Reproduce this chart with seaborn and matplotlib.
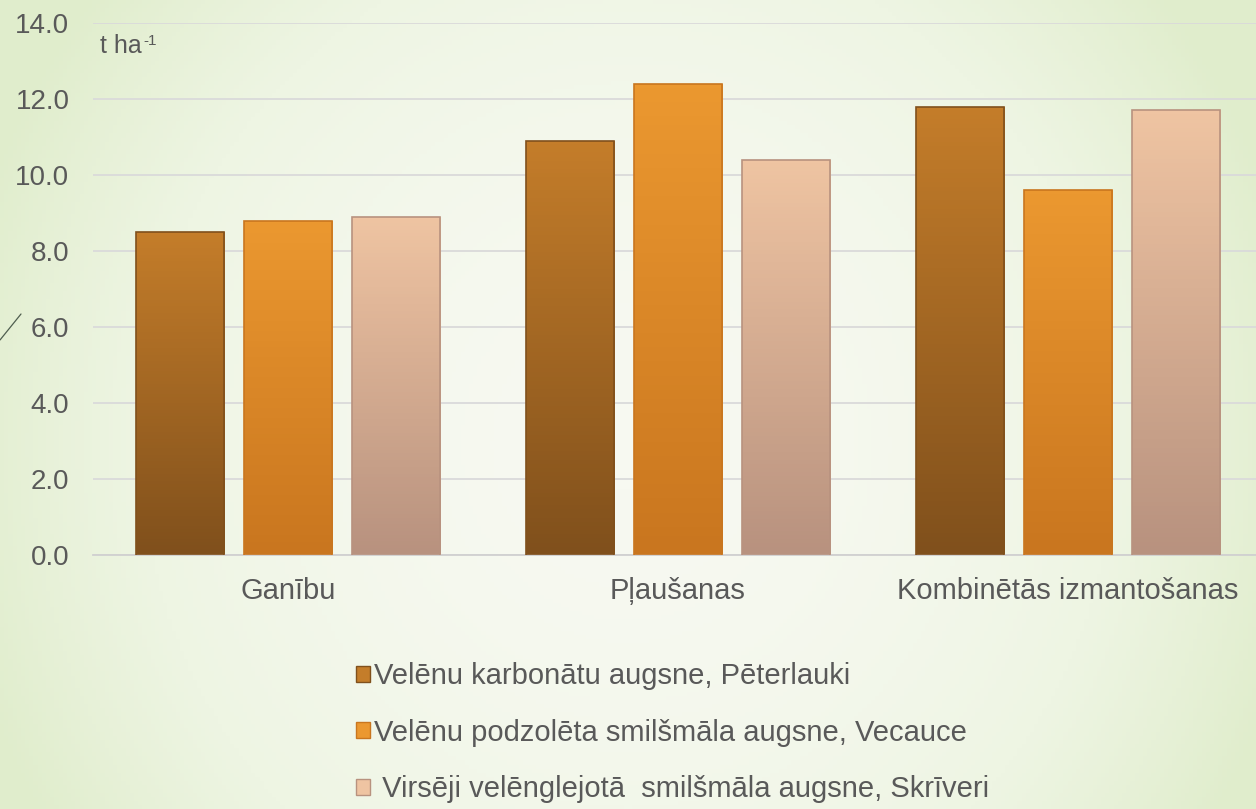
import numpy as np
import pandas as pd
import matplotlib.pyplot as plt
import seaborn as sns
from matplotlib.colors import LinearSegmentedColormap
from matplotlib.patches import Patch

categories = ["Ganību", "Pļaušanas", "Kombinētās izmantošanas"]
soils = [
    "Velēnu karbonātu augsne, Pēterlauki",
    "Velēnu podzolēta smilšmāla augsne, Vecauce",
    " Virsēji velēnglejotā  smilšmāla augsne, Skrīveri",
]
peterlauki = [8.5, 10.9, 11.8]
vecauce = [8.8, 12.4, 9.6]
skriveri = [8.9, 10.4, 11.7]
yticks = [0, 2, 4, 6, 8, 10, 12, 14]

df = pd.DataFrame({
    "kategorija": categories * 3,
    "augsne": [soils[0]] * 3 + [soils[1]] * 3 + [soils[2]] * 3,
    "raza": peterlauki + vecauce + skriveri,
})

# top / bottom colours for each bar gradient
tops = ["#c47d2a", "#eb9830", "#efc4a2"]
bottoms = ["#80501c", "#c9761f", "#b8927f"]

sns.set_style("white")
plt.rcParams["font.family"] = ["Liberation Sans", "DejaVu Sans"]

fig = plt.figure(figsize=(12.56, 8.09), dpi=100)

# slide background
bg = fig.add_axes([0, 0, 1, 1], zorder=-10)
xx, yy = np.meshgrid(np.linspace(0, 1, 300), np.linspace(0, 1, 200))
field = np.clip(((xx - 0.5) / 0.55) ** 2 + ((yy - 0.45) / 0.9) ** 2, 0, 1)
bg_cmap = LinearSegmentedColormap.from_list("bg", ["#f7f9f1", "#eef5e3", "#e0edcc"])
bg.imshow(field, cmap=bg_cmap, aspect="auto", extent=[0, 1, 0, 1], origin="lower")
bg.plot([0, 21 / 1256], [1 - 340 / 809, 1 - 314 / 809], color="#4f5e4f", lw=0.9)
bg.set_xlim(0, 1)
bg.set_ylim(0, 1)
bg.axis("off")

ax = fig.add_axes([93 / 1256, 1 - 555 / 809, 1163 / 1256, 532 / 809])
ax.patch.set_alpha(0)

sns.barplot(data=df, x="kategorija", y="raza", hue="augsne", hue_order=soils,
            palette=tops, width=0.83, gap=0.18, legend=False, ax=ax)

# gradient fill inside each bar
for i, cont in enumerate(ax.containers):
    cmap = LinearSegmentedColormap.from_list(f"g{i}", [bottoms[i], tops[i]])
    for bar in cont:
        x0, y0 = bar.get_x(), bar.get_y()
        w, h = bar.get_width(), bar.get_height()
        grad = np.linspace(0, 1, 100).reshape(-1, 1)
        im = ax.imshow(grad, cmap=cmap, aspect="auto", origin="lower",
                       extent=[x0, x0 + w, y0, y0 + h], zorder=2)
        im.set_clip_path(bar)
        bar.set_facecolor("none")
        bar.set_edgecolor(bottoms[i])
        bar.set_linewidth(1.2)
        bar.set_zorder(3)

ax.set_xlim(-0.5, 2.482)
ax.set_ylim(0, 14)
ax.set_yticks(yticks)
ax.set_yticklabels([f"{v:.1f}" for v in yticks])
ax.yaxis.grid(True, color="#dadada", lw=1.3)
ax.set_axisbelow(True)
for s in ["left", "right", "top"]:
    ax.spines[s].set_visible(False)
ax.spines["bottom"].set_color("#d0d0d0")
ax.spines["bottom"].set_linewidth(1.3)
ax.tick_params(axis="y", length=0, pad=17, labelsize=20, labelcolor="#595959")
ax.tick_params(axis="x", length=0, pad=16, labelsize=21, labelcolor="#595959")
ax.set_xlabel("")
ax.set_ylabel("")

unit = ax.text(0.006, 0.98, "t ha", transform=ax.transAxes,
               fontsize=18, color="#595959", va="top", ha="left")
ax.annotate("-1", xy=(1, 1), xycoords=unit, xytext=(1, 0),
            textcoords="offset points", fontsize=11, color="#595959",
            va="top", ha="left")

handles = [Patch(facecolor=tops[i], edgecolor=bottoms[i]) for i in range(3)]
fig.legend(handles, soils, loc="upper left",
           bbox_to_anchor=(356 / 1256, 1 - 662 / 809), frameon=False,
           fontsize=21, labelcolor="#595959", handlelength=0.48,
           handleheight=0.48, handletextpad=0.12, labelspacing=0.98,
           borderpad=0, borderaxespad=0)

fig.savefig("out.png", dpi=100)
